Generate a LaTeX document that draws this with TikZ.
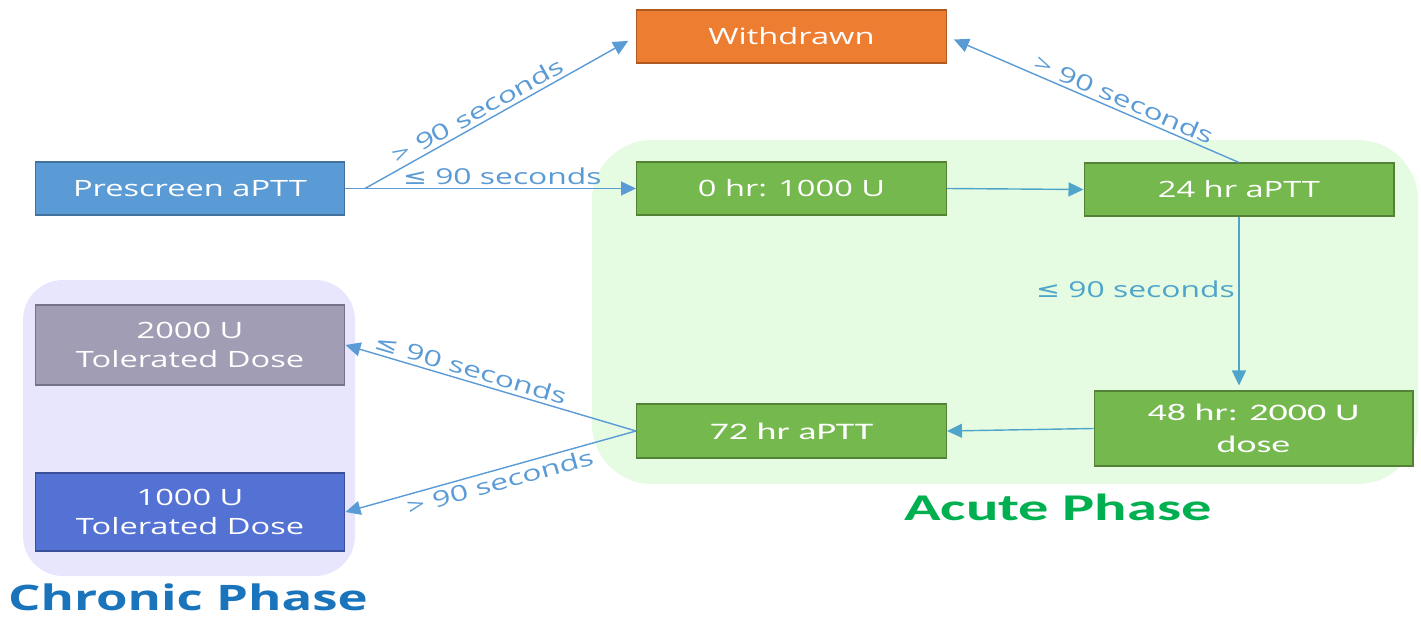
\documentclass[tikz,border=0pt]{standalone}
\usepackage{fontspec}
\setmainfont[FakeStretch=1.45]{Open Sans}
\newfontfamily\calfont[FakeStretch=1.6]{Carlito}
\newfontfamily\signfont[FakeStretch=1.3]{DejaVu Sans}
\usetikzlibrary{arrows.meta}
\usetikzlibrary{calc}

\definecolor{preblue}{HTML}{5B9BD5}
\definecolor{preedge}{HTML}{41719C}
\definecolor{wdorange}{HTML}{ED7D31}
\definecolor{wdedge}{HTML}{AE5A21}
\definecolor{acgreen}{HTML}{74B84E}
\definecolor{acedge}{HTML}{538135}
\definecolor{tolgray}{HTML}{A09DB4}
\definecolor{tolgrayedge}{HTML}{75728A}
\definecolor{tolblue}{HTML}{5472D3}
\definecolor{tolblueedge}{HTML}{3A4F9A}
\definecolor{chronbg}{HTML}{E8E6FC}
\definecolor{acutebg}{HTML}{E5FCE3}
\definecolor{linkblue}{HTML}{5B9BD5}
\definecolor{linkteal}{HTML}{4FA5C9}
\definecolor{chronblue}{HTML}{1A74BC}
\definecolor{acutegreen}{HTML}{00B050}

\tikzset{
  box/.style={rectangle, draw, line width=0.6pt, text=white, align=center,
    font=\fontsize{12.8}{17}\selectfont, minimum width=6.2cm, minimum height=1.06cm, inner sep=0pt},
  link/.style={draw=linkblue, line width=0.8pt, -{Triangle[length=3mm,width=2.8mm]}},
  backlink/.style={draw=linkblue, line width=0.8pt, {Triangle[length=3mm,width=2.8mm]}-},
  lbl/.style={text=linkblue, font=\fontsize{12.5}{14}\selectfont, inner sep=2pt}
}

\begin{document}
\begin{tikzpicture}[x=0.02cm, y=-0.02cm]
\useasboundingbox (0,0) rectangle (1421,616);

\fill[chronbg, rounded corners=0.8cm] (23,280) rectangle (355,576);
\fill[acutebg, rounded corners=1.2cm] (592,140) rectangle (1418,484);

\node[box, fill=preblue, draw=preedge] (pre) at (190,188.5) {Prescreen aPTT};
\node[box, fill=wdorange, draw=wdedge] (wd) at (791.5,36.5) {Withdrawn};
\node[box, fill=acgreen, draw=acedge] (zero) at (791.5,188.5) {0 hr: 1000 U};
\node[box, fill=acgreen, draw=acedge] (h24) at (1239,189.5) {24 hr aPTT};
\node[box, fill=acgreen, draw=acedge, minimum width=6.38cm, minimum height=1.5cm,
  font=\calfont\fontsize{13.5}{18}\selectfont] (h48) at (1253.5,428.5) {48 hr: 2000 U\\dose};
\node[box, fill=acgreen, draw=acedge, minimum height=1.08cm,
  font=\calfont\fontsize{13.5}{18}\selectfont] (h72) at (791.5,431) {72 hr aPTT};
\node[box, fill=tolgray, draw=tolgrayedge, minimum height=1.6cm] (tol2) at (190,345) {2000 U\\Tolerated Dose};
\node[box, fill=tolblue, draw=tolblueedge, minimum height=1.56cm] (tol1) at (190,512) {1000 U\\Tolerated Dose};

\node[font=\bfseries\fontsize{20}{24}\selectfont, text=chronblue] (chron) at (188,597) {Chronic Phase};
\node[font=\calfont\bfseries\fontsize{21.5}{24}\selectfont, text=acutegreen] (acute) at (1058,507) {Acute Phase};

\coordinate (fork) at (365,188.5);
\draw[link] (pre.east) -- node[lbl, above, pos=0.54] {{\signfont ≤} 90 seconds} (zero.west);
\draw[link, shorten >=1.8mm] (fork) -- node[lbl, above, sloped, pos=0.44] {> 90 seconds} (wd.west);
\draw[link, draw=linkteal] (zero.east) -- (h24.west);
\draw[backlink, shorten <=1.5mm] (wd.east) -- node[lbl, above, sloped, pos=0.59] {> 90 seconds} (h24.north);
\draw[link, draw=linkteal] (h24.south) -- node[lbl, left, pos=0.43, text=linkteal] {{\signfont ≤} 90 seconds} ($(h24.south |- h48.north)+(0,-5)$);
\draw[link, draw=linkteal] (h48.west) -- (h72.east);
\draw[backlink] (tol2.east) -- node[lbl, above, sloped, pos=0.42] {{\signfont ≤} 90 seconds} (h72.west);
\draw[backlink] (tol1.east) -- node[lbl, below, sloped, pos=0.52] {> 90 seconds} (h72.west);
\end{tikzpicture}
\end{document}
